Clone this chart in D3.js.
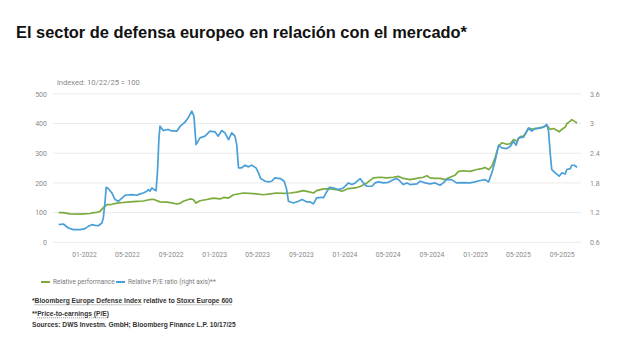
<!DOCTYPE html>
<html>
<head>
<meta charset="utf-8">
<script src="https://cdn.jsdelivr.net/npm/d3@7"></script>
<style>
  html, body { margin: 0; padding: 0; background: #fff; }
  svg { display: block; }
</style>
</head>
<body>
<svg id="chart" width="622" height="358"></svg>
<script>
// ---------- DATA ----------
const title = "El sector de defensa europeo en relación con el mercado*";
const indexNote = "indexed: 10/22/25 = 100";

const leftTicks = [0, 100, 200, 300, 400, 500];
const rightTicks = [0.6, 1.2, 1.8, 2.4, 3.0, 3.6];
const rightTickLabels = ["0.6", "1.2", "1.8", "2.4", "3", "3.6"];
const xTickDates = ["2022-01-01","2022-05-01","2022-09-01","2023-01-01","2023-05-01","2023-09-01",
                    "2024-01-01","2024-05-01","2024-09-01","2025-01-01","2025-05-01","2025-09-01"];

// Relative performance (left axis, indexed)
const perfDates = ["2021-10-22","2021-11-03","2021-11-23","2021-12-21","2022-01-18","2022-01-27","2022-02-06","2022-02-15","2022-02-23","2022-03-06",
  "2022-03-20","2022-04-03","2022-04-20","2022-05-10","2022-05-29","2022-06-16","2022-07-05","2022-07-14","2022-08-02","2022-08-21",
  "2022-09-04","2022-09-18","2022-09-27","2022-10-06","2022-10-25","2022-11-03","2022-11-11","2022-11-22","2022-12-11","2022-12-30",
  "2023-01-17","2023-01-27","2023-02-10","2023-02-24","2023-03-24","2023-04-21","2023-05-19","2023-06-07","2023-06-25","2023-07-14",
  "2023-08-02","2023-08-20","2023-09-08","2023-09-27","2023-10-06","2023-10-15","2023-11-03","2023-11-22","2023-12-11","2023-12-25",
  "2024-01-12","2024-01-31","2024-02-14","2024-03-04","2024-03-22","2024-04-10","2024-04-29","2024-05-17","2024-05-31","2024-06-14",
  "2024-07-03","2024-07-22","2024-08-09","2024-08-19","2024-08-28","2024-09-11","2024-09-25","2024-10-09","2024-10-23","2024-11-06",
  "2024-11-16","2024-11-30","2024-12-18","2025-01-06","2025-01-20","2025-01-29","2025-02-08","2025-02-17","2025-02-26","2025-03-08",
  "2025-03-17","2025-03-31","2025-04-10","2025-04-19","2025-04-28","2025-05-08","2025-05-17","2025-05-26","2025-05-31","2025-06-09",
  "2025-06-19","2025-06-28","2025-07-12","2025-07-21","2025-07-31","2025-08-09","2025-08-18","2025-08-25","2025-09-01","2025-09-11",
  "2025-09-15","2025-09-25","2025-09-29","2025-10-06","2025-10-14"];
const perfValues = [100,100,96,95,97,100,101,104,115,127,
  128,132,134,136,138,139,144,145,136,135,
  133,129,131,138,146,144,132,140,144,149,
  146,151,149,160,166,164,160,163,166,165,
  166,169,174,169,166,174,180,180,177,172,
  181,183,188,200,217,219,217,219,222,215,
  211,215,219,224,217,215,215,211,219,226,
  239,241,239,245,248,252,245,256,284,323,
  335,330,332,346,341,356,358,374,385,381,
  382,385,388,394,380,383,377,372,380,388,
  399,408,413,408,402];

// Relative P/E ratio (right axis)
const peDates = ["2021-10-22","2021-11-04","2021-11-18","2021-12-02","2021-12-21","2022-01-04","2022-01-13","2022-01-23","2022-02-01","2022-02-10",
  "2022-02-20","2022-02-24","2022-03-01","2022-03-04","2022-03-10","2022-03-20","2022-03-29","2022-04-07","2022-04-17","2022-04-26",
  "2022-05-15","2022-05-29","2022-06-07","2022-06-16","2022-06-26","2022-06-30","2022-07-05","2022-07-10","2022-07-16","2022-07-22",
  "2022-07-26","2022-07-30","2022-08-02","2022-08-11","2022-08-25","2022-09-04","2022-09-18","2022-09-27","2022-10-11","2022-10-20",
  "2022-10-30","2022-11-05","2022-11-11","2022-11-22","2022-12-06","2022-12-20","2023-01-03","2023-01-12","2023-01-22","2023-01-31",
  "2023-02-10","2023-02-19","2023-02-28","2023-03-05","2023-03-10","2023-03-19","2023-03-28","2023-04-07","2023-04-16","2023-04-28",
  "2023-05-05","2023-05-11","2023-05-24","2023-06-02","2023-06-11","2023-06-20","2023-07-05","2023-07-16","2023-07-23","2023-07-28",
  "2023-08-11","2023-08-25","2023-09-04","2023-09-18","2023-09-27","2023-10-06","2023-10-15","2023-10-29","2023-11-03","2023-11-12",
  "2023-11-20","2023-12-01","2023-12-15","2023-12-29","2024-01-12","2024-01-22","2024-01-31","2024-02-14","2024-02-23","2024-03-04",
  "2024-03-18","2024-03-27","2024-04-05","2024-04-19","2024-05-03","2024-05-17","2024-05-27","2024-06-05","2024-06-14","2024-06-24",
  "2024-07-03","2024-07-22","2024-07-31","2024-08-14","2024-08-28","2024-09-11","2024-09-25","2024-10-04","2024-10-13","2024-10-27",
  "2024-11-10","2024-11-29","2024-12-18","2025-01-01","2025-01-15","2025-01-29","2025-02-08","2025-02-17","2025-02-26","2025-03-08",
  "2025-03-17","2025-03-31","2025-04-10","2025-04-19","2025-04-26","2025-05-03","2025-05-17","2025-05-31","2025-06-09","2025-06-19",
  "2025-06-28","2025-07-12","2025-07-21","2025-07-26","2025-07-31","2025-08-04","2025-08-14","2025-08-25","2025-09-01","2025-09-11",
  "2025-09-15","2025-09-25","2025-09-29","2025-10-06","2025-10-14"];
const peValues = [0.956,0.970,0.889,0.855,0.855,0.875,0.923,0.956,0.942,0.934,
  0.990,1.092,1.428,1.712,1.686,1.596,1.464,1.428,1.494,1.550,
  1.564,1.550,1.578,1.596,1.632,1.665,1.632,1.698,1.665,1.644,
  2.040,2.710,2.946,2.858,2.880,2.850,2.844,2.940,3.028,3.114,
  3.251,3.148,2.574,2.710,2.744,2.846,2.832,2.744,2.858,2.811,
  2.676,2.811,2.744,2.574,2.103,2.103,2.157,2.124,2.157,2.103,
  2.002,1.888,1.834,1.820,1.834,1.901,1.888,1.834,1.665,1.429,
  1.395,1.429,1.464,1.416,1.416,1.376,1.496,1.509,1.496,1.617,
  1.712,1.698,1.665,1.698,1.800,1.766,1.800,1.888,1.800,1.732,
  1.732,1.800,1.820,1.800,1.812,1.866,1.888,1.834,1.766,1.800,
  1.766,1.780,1.834,1.800,1.780,1.800,1.753,1.800,1.866,1.866,
  1.800,1.806,1.800,1.820,1.848,1.866,1.820,2.002,2.238,2.562,
  2.508,2.494,2.541,2.642,2.562,2.710,2.724,2.904,2.846,2.904,
  2.898,2.928,2.982,2.846,2.374,2.070,2.002,1.935,2.002,1.980,
  2.070,2.088,2.157,2.157,2.116];

const seriesNames = ["Relative performance", "Relative P/E ratio (right axis)**"];
const seriesColors = ["#7aab3c", "#4a9fd9"];

const footnoteLines = [
  "*Bloomberg Europe Defense Index relative to Stoxx Europe 600",
  "**Price-to-earnings (P/E)",
  "Sources: DWS Investm. GmbH; Bloomberg Finance L.P. 10/17/25"
];
const footnoteLinks = [
  ["Bloomberg Europe Defense Index", "Stoxx Europe 600"],
  ["Price-to-earnings (P/E)"],
  []
];

// ---------- DRAW ----------
const parse = d3.timeParse("%Y-%m-%d");
const svg = d3.select("#chart");
svg.append("rect").attr("width", 622).attr("height", 358).attr("fill", "#fff");

const plot = {left: 53, right: 581, top: 93.8, bottom: 242.3};
const x = d3.scaleTime().domain([parse("2021-10-06"), parse("2025-10-25")]).range([plot.left, plot.right]);
const yL = d3.scaleLinear().domain([0, 500]).range([plot.bottom, plot.top]);
const yR = d3.scaleLinear().domain([0.6, 3.6]).range([plot.bottom, plot.top]);

const axisFont = "Roboto, 'Liberation Sans', Arial, sans-serif";

// Title
svg.append("text").attr("x", 16).attr("y", 38)
  .attr("font-family", "'Liberation Sans', Arial, sans-serif")
  .attr("font-weight", "bold").attr("font-size", 16.4).attr("fill", "#111")
  .text(title);

// Index note
svg.append("text").attr("x", 57).attr("y", 84.5)
  .attr("font-family", axisFont).attr("font-size", 7.6).attr("fill", "#8a8a8a")
  .text(indexNote);

// Grid lines
svg.append("g").selectAll("line").data(leftTicks).join("line")
  .attr("x1", plot.left).attr("x2", plot.right)
  .attr("y1", d => yL(d)).attr("y2", d => yL(d))
  .attr("stroke", "#ebebeb").attr("stroke-width", 1);

// Left axis
const gL = svg.append("g").attr("transform", `translate(${plot.left - 6},0)`)
  .call(d3.axisLeft(yL).tickValues(leftTicks).tickSize(0).tickPadding(0));
gL.select(".domain").remove();
gL.selectAll("text").attr("font-family", axisFont).attr("font-size", 7).attr("fill", "#8a8a8a");

// Right axis
const gR = svg.append("g").attr("transform", `translate(${plot.right + 9},0)`)
  .call(d3.axisRight(yR).tickValues(rightTicks).tickFormat((d, i) => rightTickLabels[i]).tickSize(0).tickPadding(0));
gR.select(".domain").remove();
gR.selectAll("text").attr("font-family", axisFont).attr("font-size", 7).attr("fill", "#8a8a8a");

// Bottom axis
const gX = svg.append("g").attr("transform", `translate(0,${plot.bottom + 9.5})`)
  .call(d3.axisBottom(x).tickValues(xTickDates.map(parse)).tickFormat(d3.timeFormat("%m-%Y")).tickSize(0).tickPadding(0));
gX.select(".domain").remove();
gX.selectAll("text").attr("font-family", axisFont).attr("font-size", 6.8).attr("fill", "#8a8a8a");

// Lines
const perfData = perfDates.map((d, i) => ({date: parse(d), v: perfValues[i]}));
const peData = peDates.map((d, i) => ({date: parse(d), v: peValues[i]}));

svg.append("path").datum(perfData)
  .attr("fill", "none").attr("stroke", seriesColors[0]).attr("stroke-width", 1.7)
  .attr("stroke-linejoin", "round")
  .attr("d", d3.line().x(d => x(d.date)).y(d => yL(d.v)));

svg.append("path").datum(peData)
  .attr("fill", "none").attr("stroke", seriesColors[1]).attr("stroke-width", 1.7)
  .attr("stroke-linejoin", "round")
  .attr("d", d3.line().x(d => x(d.date)).y(d => yR(d.v)));

// Legend
const legend = svg.append("g").attr("transform", "translate(41,282)");
const legX = [0, 75];
seriesNames.forEach((name, i) => {
  const g = legend.append("g").attr("transform", `translate(${legX[i]},0)`);
  g.append("line").attr("x1", 0).attr("x2", 9).attr("y1", 0).attr("y2", 0)
    .attr("stroke", seriesColors[i]).attr("stroke-width", 2);
  g.append("text").attr("x", 12).attr("y", 2.3)
    .attr("font-family", axisFont).attr("font-size", 6.5).attr("fill", "#7a7a7a")
    .text(name);
});

// Footnotes: one text per line, common size fitted so line 1 spans the reference width
const fnY = [303, 316, 327];
const fnTargetWidth = 201;
const fnTexts = footnoteLines.map((line, li) => svg.append("text").attr("x", 32).attr("y", fnY[li])
    .attr("font-family", "'Liberation Sans', Arial, sans-serif")
    .attr("font-weight", "bold").attr("font-size", 10).attr("fill", "#333")
    .text(line));
const fnSize = 10 * fnTargetWidth / fnTexts[0].node().getComputedTextLength();
fnTexts.forEach((t, li) => {
  t.attr("font-size", fnSize);
  const node = t.node();
  const line = footnoteLines[li];
  footnoteLinks[li].forEach(link => {
    const idx = line.indexOf(link);
    const s = node.getStartPositionOfChar(idx).x;
    const e = node.getEndPositionOfChar(idx + link.length - 1).x;
    svg.append("line").attr("x1", s).attr("x2", e)
      .attr("y1", fnY[li] + 1.8).attr("y2", fnY[li] + 1.8)
      .attr("stroke", "#555").attr("stroke-width", 0.7).attr("stroke-dasharray", "1,1");
  });
});
</script>
</body>
</html>
